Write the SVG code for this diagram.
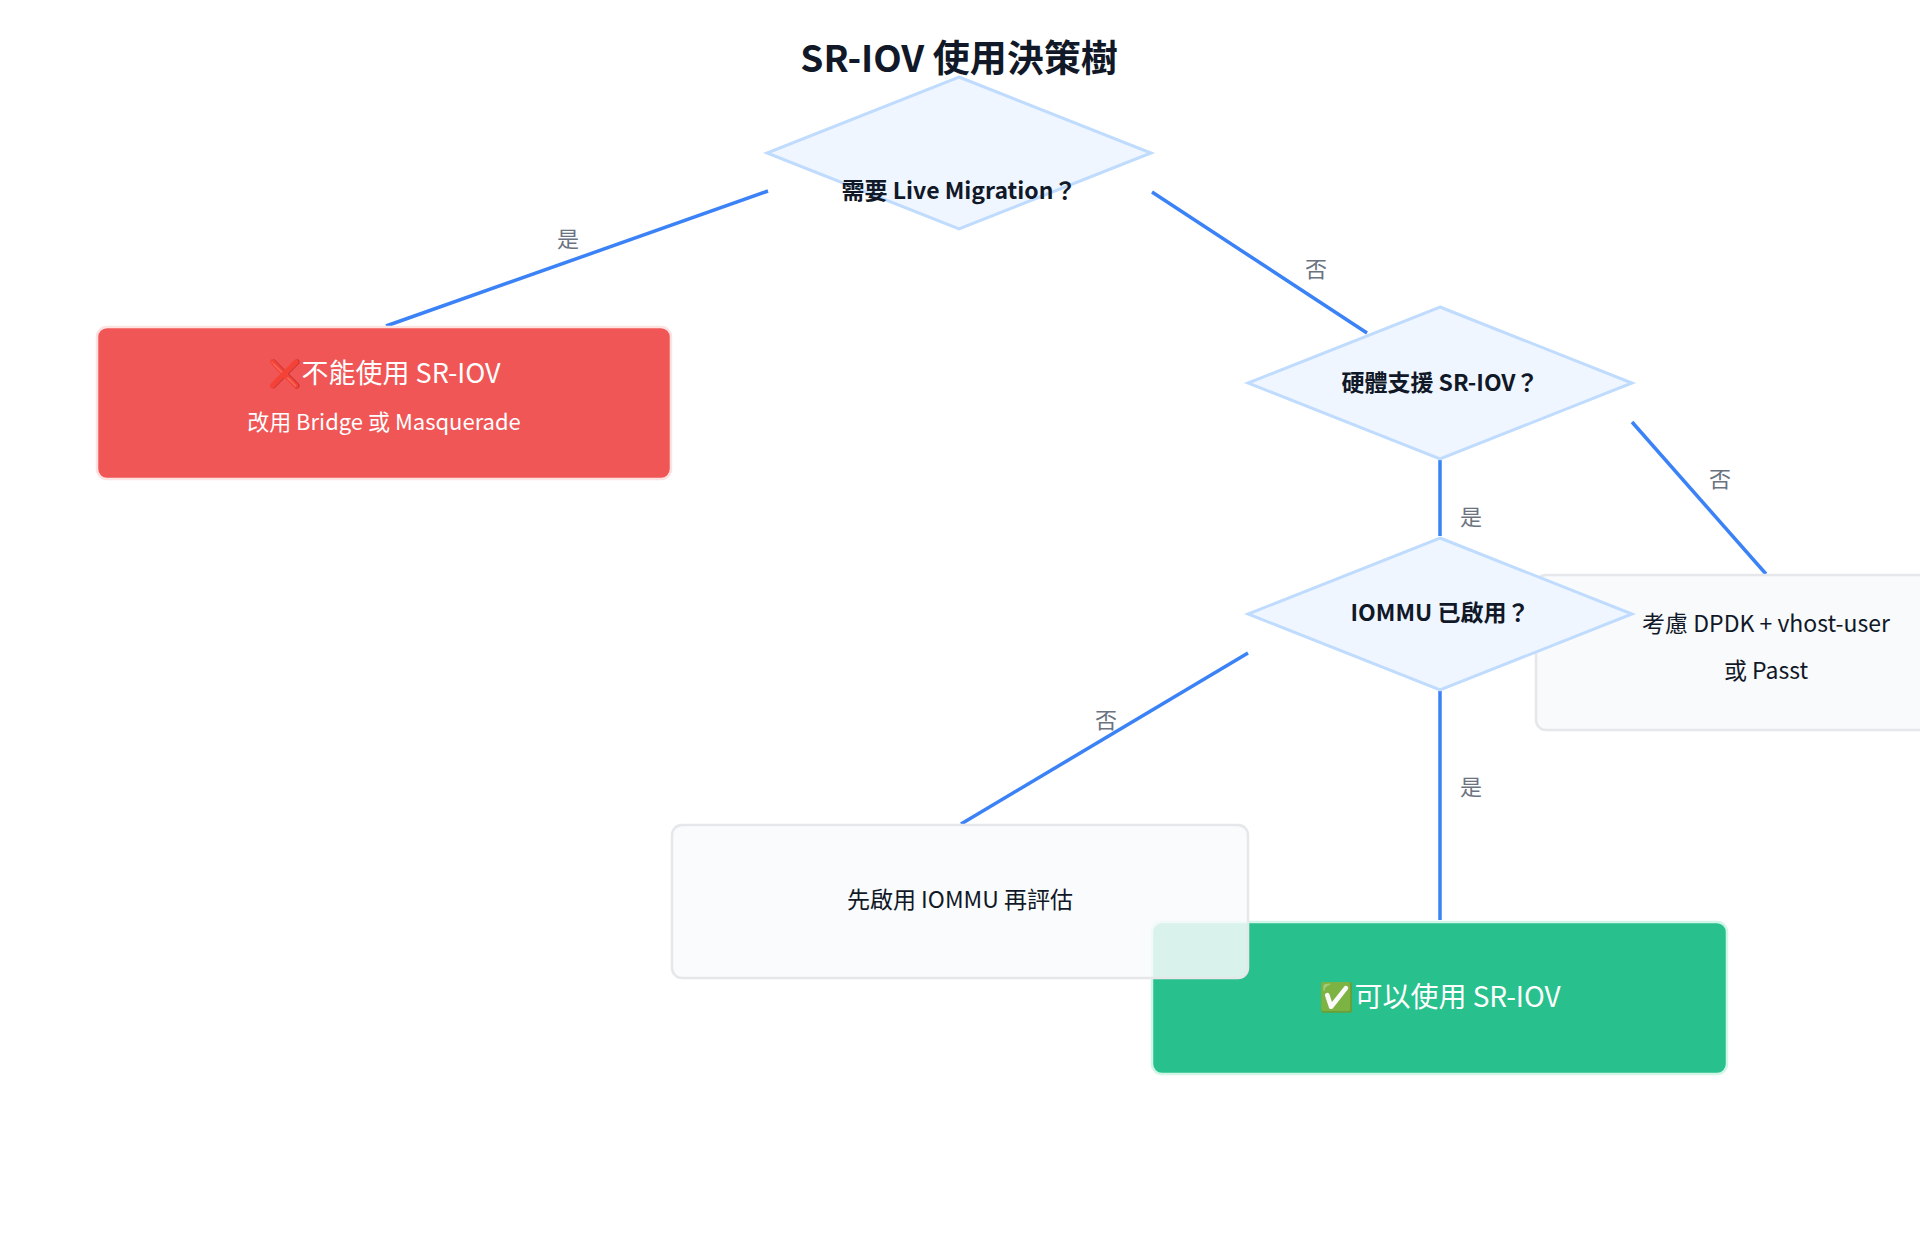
<svg xmlns="http://www.w3.org/2000/svg" width="1920" height="1248" viewBox="0 0 1920 1248">
<style>
text{font-family:"Noto Sans CJK TC","Noto Sans",sans-serif;text-anchor:middle;dominant-baseline:middle}
.d{fill:#eff6ff;stroke:#bfdbfe;stroke-width:3}
.dt{font-size:23px;font-weight:600;fill:#111827}
.g{fill:#f8fafc;stroke:#e5e7eb;stroke-width:2.5}
.gt{font-size:23px;fill:#111827}
.e{stroke:#3b82f6;stroke-width:3.5;fill:none}
.l{font-size:22px;fill:#6b7280}
.w{fill:#fff}
</style>
<rect width="1920" height="1248" fill="#fff"/>
<text x="959" y="62" font-size="37" font-weight="600" fill="#111827">SR-IOV 使用決策樹</text>
<g id="connectors">
<line class="e" x1="768" y1="191" x2="386" y2="326"/><text class="l" x="568" y="241">是</text>
<line class="e" x1="1152" y1="192" x2="1367" y2="333"/><text class="l" x="1316" y="271">否</text>
<line class="e" x1="1440" y1="460" x2="1440" y2="536"/><text class="l" x="1471" y="519">是</text>
<line class="e" x1="1632" y1="422" x2="1766" y2="574"/><text class="l" x="1720" y="481">否</text>
<line class="e" x1="1248" y1="653" x2="961" y2="824"/><text class="l" x="1106" y="722">否</text>
<line class="e" x1="1440" y1="691" x2="1440" y2="920"/><text class="l" x="1471" y="789">是</text>
</g>
<g id="no-sriov"><rect x="97" y="327" width="574" height="152" rx="10" fill="#f05656" stroke="#fde2e2" stroke-width="2.5"/>
<text class="w" x="384" y="376" font-size="27">❌不能使用 SR-IOV</text>
<text class="w" x="384" y="424" font-size="22">改用 Bridge 或 Masquerade</text></g>
<g id="dpdk"><rect class="g" x="1536" y="575" width="574" height="155" rx="10"/>
<text class="gt" x="1766" y="626" font-size="22">考慮 DPDK + vhost-user</text>
<text class="gt" x="1766" y="673" font-size="22">或 Passt</text></g>
<g id="yes-sriov"><rect x="1152" y="922" width="575" height="152" rx="10" fill="#28c08c" stroke="#d1f5e6" stroke-width="2.5"/>
<text class="w" x="1440" y="999" font-size="28">✅可以使用 SR-IOV</text></g>
<g id="enable-iommu"><rect class="g" x="672" y="825" width="576" height="153" rx="10" fill-opacity="0.85"/>
<text class="gt" x="960" y="902">先啟用 IOMMU 再評估</text></g>
<g id="q1"><polygon class="d" points="959,77 1151,153 959,229 767,153"/><text class="dt" x="959" y="193">需要 Live Migration？</text></g>
<g id="q2"><polygon class="d" points="1440,307 1632,383 1440,459 1248,383"/><text class="dt" x="1440" y="385">硬體支援 SR-IOV？</text></g>
<g id="q3"><polygon class="d" points="1440,538 1632,614 1440,690 1248,614"/><text class="dt" x="1440" y="615">IOMMU 已啟用？</text></g>
</svg>
